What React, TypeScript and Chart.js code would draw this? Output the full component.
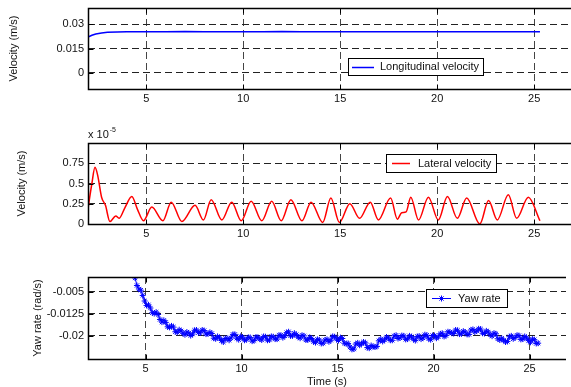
import React, { useEffect, useRef } from "react";
import { Chart, registerables } from "chart.js";

Chart.register(...registerables);

// ---------- data ----------
const X_TICKS = [5, 10, 15, 20, 25];

// Longitudinal velocity (m/s)
const LONG_T = [2.0, 2.2, 2.4, 2.7, 3.0, 3.5, 4.0, 5.0, 6.0, 7.0, 8.0, 9.0, 10.0, 11.0, 12.0, 13.0, 14.0, 15.0, 16.0, 17.0, 18.0, 19.0, 20.0, 21.0, 22.0, 23.0, 24.0, 25.0, 25.3];
const LONG_V = [0.022, 0.0232, 0.024, 0.0246, 0.025, 0.0252, 0.0253, 0.0254, 0.0253, 0.0255, 0.0253, 0.0254, 0.0253, 0.0254, 0.0255, 0.0253, 0.0254, 0.0254, 0.0253, 0.0254, 0.0254, 0.0253, 0.0254, 0.0253, 0.0254, 0.0254, 0.0253, 0.0254, 0.0254];
const LONG_Y_TICKS = [0, 0.015, 0.03];

// Lateral velocity (x 1e-5 m/s)
const LAT_T = [2.0, 2.2, 2.36, 2.5, 2.7, 2.9, 3.13, 3.43, 3.6, 3.9, 4.26, 4.55, 4.86, 5.29, 5.86, 6.29, 6.84, 7.52, 7.95, 8.35, 8.9, 9.41, 9.9, 10.41, 10.96, 11.47, 11.96, 12.46, 13.03, 13.5, 14.1, 14.52, 14.96, 15.5, 16.0, 16.55, 16.97, 17.6, 17.95, 18.17, 18.4, 18.64, 19.04, 19.55, 20.06, 20.53, 21.04, 21.52, 22.2, 22.65, 23.1, 23.67, 24.1, 24.7, 25.3];
const LAT_V = [0.19, 0.5, 0.7, 0.6, 0.33, 0.23, 0.03, 0.1, 0.07, 0.2, 0.34, 0.18, 0.04, 0.21, 0.04, 0.27, 0.03, 0.23, 0.05, 0.3, 0.05, 0.27, 0.04, 0.28, 0.04, 0.28, 0.04, 0.3, 0.04, 0.27, 0.02, 0.32, 0.02, 0.25, 0.07, 0.27, 0.05, 0.32, 0.06, 0.14, 0.15, 0.33, 0.05, 0.33, 0.05, 0.34, 0.07, 0.32, 0.0, 0.29, 0.05, 0.36, 0.07, 0.33, 0.04];
const LAT_Y_TICKS = [0, 0.25, 0.5, 0.75];

// Yaw rate (rad/s)
const YAW_T = [
  4.45, 4.55, 4.65, 4.75, 4.85, 4.95, 5.05, 5.15, 5.25, 5.35,
  5.45, 5.55, 5.65, 5.75, 5.85, 5.95, 6.05, 6.15, 6.25, 6.35,
  6.45, 6.55, 6.65, 6.75, 6.85, 6.95, 7.05, 7.15, 7.25, 7.35,
  7.45, 7.55, 7.65, 7.75, 7.85, 7.95, 8.05, 8.15, 8.25, 8.35,
  8.45, 8.55, 8.65, 8.75, 8.85, 8.95, 9.05, 9.15, 9.25, 9.35,
  9.45, 9.55, 9.65, 9.75, 9.85, 9.95, 10.05, 10.15, 10.25, 10.35,
  10.45, 10.55, 10.65, 10.75, 10.85, 10.95, 11.05, 11.15, 11.25, 11.35,
  11.45, 11.55, 11.65, 11.75, 11.85, 11.95, 12.05, 12.15, 12.25, 12.35,
  12.45, 12.55, 12.65, 12.75, 12.85, 12.95, 13.05, 13.15, 13.25, 13.35,
  13.45, 13.55, 13.65, 13.75, 13.85, 13.95, 14.05, 14.15, 14.25, 14.35,
  14.45, 14.55, 14.65, 14.75, 14.85, 14.95, 15.05, 15.15, 15.25, 15.35,
  15.45, 15.55, 15.65, 15.75, 15.85, 15.95, 16.05, 16.15, 16.25, 16.35,
  16.45, 16.55, 16.65, 16.75, 16.85, 16.95, 17.05, 17.15, 17.25, 17.35,
  17.45, 17.55, 17.65, 17.75, 17.85, 17.95, 18.05, 18.15, 18.25, 18.35,
  18.45, 18.55, 18.65, 18.75, 18.85, 18.95, 19.05, 19.15, 19.25, 19.35,
  19.45, 19.55, 19.65, 19.75, 19.85, 19.95, 20.05, 20.15, 20.25, 20.35,
  20.45, 20.55, 20.65, 20.75, 20.85, 20.95, 21.05, 21.15, 21.25, 21.35,
  21.45, 21.55, 21.65, 21.75, 21.85, 21.95, 22.05, 22.15, 22.25, 22.35,
  22.45, 22.55, 22.65, 22.75, 22.85, 22.95, 23.05, 23.15, 23.25, 23.35,
  23.45, 23.55, 23.65, 23.75, 23.85, 23.95, 24.05, 24.15, 24.25, 24.35,
  24.45, 24.55, 24.65, 24.75, 24.85, 24.95, 25.05, 25.15, 25.25, 25.35,
  25.45,
];
const YAW_V = [
  -0.0003, -0.0029, -0.0041, -0.0045, -0.0063, -0.0082, -0.0097, -0.0095, -0.0106, -0.0122,
  -0.0125, -0.012, -0.0128, -0.0145, -0.0154, -0.0148, -0.0155, -0.017, -0.0172, -0.0167,
  -0.0171, -0.0187, -0.0189, -0.018, -0.0184, -0.0192, -0.0197, -0.0188, -0.0192, -0.02,
  -0.0195, -0.0182, -0.0181, -0.019, -0.0191, -0.0181, -0.0183, -0.0195, -0.0194, -0.0189,
  -0.0193, -0.0209, -0.0211, -0.0203, -0.0208, -0.0217, -0.0222, -0.021, -0.021, -0.0216,
  -0.0208, -0.0196, -0.0196, -0.0209, -0.0214, -0.0203, -0.0205, -0.0216, -0.0214, -0.0206,
  -0.0207, -0.0219, -0.0217, -0.0205, -0.0206, -0.0212, -0.0215, -0.0203, -0.0204, -0.0216,
  -0.0215, -0.0203, -0.0204, -0.0212, -0.0212, -0.0199, -0.0199, -0.0207, -0.0201, -0.019,
  -0.0187, -0.0201, -0.0201, -0.0192, -0.0197, -0.0205, -0.0209, -0.0199, -0.0201, -0.0215,
  -0.0215, -0.0206, -0.021, -0.0221, -0.0224, -0.0213, -0.0215, -0.0227, -0.0226, -0.0215,
  -0.0213, -0.0221, -0.0216, -0.0203, -0.0204, -0.0212, -0.0217, -0.0207, -0.021, -0.0226,
  -0.0228, -0.0227, -0.0239, -0.0247, -0.0246, -0.0229, -0.0225, -0.0233, -0.0228, -0.0222,
  -0.0225, -0.0241, -0.0243, -0.0234, -0.0238, -0.0239, -0.0237, -0.0218, -0.0212, -0.022,
  -0.0215, -0.0205, -0.0208, -0.0216, -0.0216, -0.0201, -0.0199, -0.021, -0.0208, -0.02,
  -0.0201, -0.0213, -0.0212, -0.0201, -0.0204, -0.0212, -0.0217, -0.0203, -0.0202, -0.0212,
  -0.0208, -0.0197, -0.0199, -0.0211, -0.0214, -0.02, -0.02, -0.0209, -0.0204, -0.0194,
  -0.0192, -0.0203, -0.02, -0.0187, -0.0188, -0.0192, -0.0193, -0.0181, -0.0182, -0.0195,
  -0.0194, -0.0185, -0.0188, -0.0196, -0.0196, -0.0181, -0.0179, -0.0188, -0.0184, -0.0177,
  -0.0178, -0.0192, -0.0193, -0.0184, -0.0188, -0.0197, -0.0202, -0.0192, -0.0194, -0.0211,
  -0.0215, -0.0209, -0.0216, -0.0222, -0.022, -0.0204, -0.0201, -0.0211, -0.0207, -0.0199,
  -0.02, -0.0213, -0.0212, -0.0203, -0.0208, -0.0217, -0.0223, -0.0212, -0.0214, -0.0227,
  -0.0226,
];
const YAW_Y_TICKS = [-0.02, -0.0125, -0.005];

// ---------- styling ----------
const FONT = "'Liberation Sans', Arial, Helvetica, sans-serif";
const TEXT = "#111";

type Spec = {
  top: number;
  height: number;
  padTop: number;
  xHeight: number;
  yMin: number;
  yMax: number;
  yTicks: number[];
  t: number[];
  v: number[];
  label: string;
  color: string;
  lineWidth: number;
  smooth: boolean;
  star: boolean;
  yTitle: string;
  yTitlePad: number;
  xTitle?: string;
  exponent?: boolean;
  legend: { x: number; y: number; w: number; h: number; l1: number; l2: number; tx: number };
};

const SPECS: Spec[] = [
  {
    top: 0, height: 105, padTop: 8, xHeight: 16,
    yMin: -0.01, yMax: 0.04, yTicks: LONG_Y_TICKS,
    t: LONG_T, v: LONG_V, label: "Longitudinal velocity", color: "#0000ff", lineWidth: 1.5,
    smooth: false, star: false, yTitle: "Velocity (m/s)", yTitlePad: 7,
    legend: { x: 348, y: 58, w: 135, h: 17, l1: 352, l2: 374, tx: 380 },
  },
  {
    top: 120, height: 120, padTop: 23, xHeight: 16,
    yMin: 0, yMax: 1, yTicks: LAT_Y_TICKS,
    t: LAT_T, v: LAT_V, label: "Lateral velocity", color: "#ff0000", lineWidth: 1.5,
    smooth: true, star: false, yTitle: "Velocity (m/s)", yTitlePad: 15, exponent: true,
    legend: { x: 386, y: 34, w: 110, h: 18, l1: 392, l2: 410, tx: 418 },
  },
  {
    top: 260, height: 129, padTop: 17, xHeight: 30,
    yMin: -0.028, yMax: 0, yTicks: YAW_Y_TICKS,
    t: YAW_T, v: YAW_V, label: "Yaw rate", color: "#0000ff", lineWidth: 1,
    smooth: false, star: true, yTitle: "Yaw rate (rad/s)", yTitlePad: 31, xTitle: "Time (s)",
    legend: { x: 426, y: 29, w: 81, h: 18, l1: 432, l2: 451, tx: 458 },
  },
];

function drawStar(ctx: CanvasRenderingContext2D, x: number, y: number, r: number) {
  ctx.beginPath();
  ctx.moveTo(x - r, y); ctx.lineTo(x + r, y);
  ctx.moveTo(x, y - r); ctx.lineTo(x, y + r);
  const d = r * 0.7071;
  ctx.moveTo(x - d, y - d); ctx.lineTo(x + d, y + d);
  ctx.moveTo(x - d, y + d); ctx.lineTo(x + d, y - d);
  ctx.stroke();
}

function Panel({ spec }: { spec: Spec }) {
  const ref = useRef<HTMLCanvasElement>(null);

  useEffect(() => {
    const canvas = ref.current!;
    const framePlugin = {
      id: "frameBox",
      afterDatasetsDraw(chart: any) {
        const { ctx, chartArea } = chart;
        const { left, top, right, bottom } = chartArea;
        const xs = chart.scales.x;
        const ys = chart.scales.y;
        ctx.save();
        ctx.strokeStyle = "#000";
        ctx.lineWidth = 1.5;
        ctx.setLineDash([]);
        const L = Math.round(left) + 0.5;
        const T = Math.round(top) + 0.5;
        const B = Math.round(bottom) + 0.5;
        ctx.beginPath();
        ctx.moveTo(right, T); ctx.lineTo(L, T); ctx.lineTo(L, B); ctx.lineTo(right, B);
        ctx.stroke();
        ctx.lineWidth = 1;
        ctx.beginPath();
        X_TICKS.forEach((v) => {
          const px = Math.round(xs.getPixelForValue(v)) + 0.5;
          ctx.moveTo(px, T); ctx.lineTo(px, T + 5);
          ctx.moveTo(px, B); ctx.lineTo(px, B - 5);
        });
        spec.yTicks.forEach((v) => {
          const py = Math.round(ys.getPixelForValue(v)) + 0.5;
          ctx.moveTo(L, py); ctx.lineTo(L + 5, py);
        });
        ctx.stroke();

        if (spec.exponent) {
          ctx.fillStyle = TEXT;
          ctx.textBaseline = "alphabetic";
          ctx.textAlign = "left";
          ctx.font = `11px ${FONT}`;
          ctx.fillText("x 10", left, top - 5);
          const w = ctx.measureText("x 10").width;
          ctx.font = `7px ${FONT}`;
          ctx.fillText("-5", left + w + 1, top - 11);
        }

        // legend box
        const lg = spec.legend;
        ctx.fillStyle = "#fff";
        ctx.fillRect(lg.x, lg.y, lg.w, lg.h);
        ctx.strokeStyle = "#000";
        ctx.lineWidth = 1;
        ctx.strokeRect(lg.x + 0.5, lg.y + 0.5, lg.w, lg.h);
        const cy = Math.round(lg.y + lg.h / 2) + 0.5;
        ctx.strokeStyle = spec.color;
        ctx.lineWidth = spec.lineWidth;
        ctx.beginPath();
        ctx.moveTo(lg.l1, cy); ctx.lineTo(lg.l2, cy);
        ctx.stroke();
        if (spec.star) {
          ctx.lineWidth = 1;
          drawStar(ctx, (lg.l1 + lg.l2) / 2, cy, 3);
        }
        ctx.fillStyle = TEXT;
        ctx.font = `11px ${FONT}`;
        ctx.textBaseline = "middle";
        ctx.textAlign = "left";
        ctx.fillText(spec.label, lg.tx, lg.y + lg.h / 2 + 0.5);
        ctx.restore();
      },
    };

    const chart = new Chart(canvas, {
      type: "line",
      data: {
        datasets: [
          {
            label: spec.label,
            data: spec.t.map((t, i) => ({ x: t, y: spec.v[i] })),
            borderColor: spec.color,
            backgroundColor: spec.color,
            borderWidth: spec.lineWidth,
            pointRadius: spec.star ? 3 : 0,
            pointStyle: "star",
            pointBorderColor: spec.color,
            pointBorderWidth: 1,
            cubicInterpolationMode: spec.smooth ? "monotone" : "default",
            tension: 0,
            fill: false,
          } as any,
        ],
      },
      options: {
        animation: false,
        responsive: false,
        devicePixelRatio: 1,
        layout: { padding: { top: spec.padTop, left: 0, right: 0, bottom: 0 } },
        plugins: { legend: { display: false }, tooltip: { enabled: false } },
        scales: {
          x: {
            type: "linear",
            min: 2,
            max: 26.9,
            afterBuildTicks: (s: any) => {
              s.ticks = X_TICKS.map((v) => ({ value: v }));
            },
            afterFit: (s: any) => {
              s.height = spec.xHeight;
              s.paddingLeft = 0;
              s.paddingRight = 0;
            },
            grid: { color: "#444", lineWidth: 1, drawTicks: false },
            border: { display: false, dash: [7, 4] },
            ticks: {
              autoSkip: false,
              maxRotation: 0,
              padding: 3,
              color: TEXT,
              font: { family: FONT, size: 11 },
              callback: (v: any) => String(v),
            },
            title: spec.xTitle
              ? { display: true, text: spec.xTitle, color: TEXT, font: { family: FONT, size: 11 }, padding: { top: 0, bottom: 0 } }
              : { display: false },
          },
          y: {
            type: "linear",
            min: spec.yMin,
            max: spec.yMax,
            afterBuildTicks: (s: any) => {
              s.ticks = spec.yTicks.map((v) => ({ value: v }));
            },
            afterFit: (s: any) => {
              s.width = 88;
              s.paddingTop = 0;
              s.paddingBottom = 0;
            },
            grid: { color: "#222", lineWidth: 1, drawTicks: false },
            border: { display: false, dash: [7, 4] },
            ticks: {
              autoSkip: false,
              padding: 4,
              color: TEXT,
              font: { family: FONT, size: 11 },
              callback: (v: any) => String(v),
            },
            title: {
              display: true,
              text: spec.yTitle,
              color: TEXT,
              font: { family: FONT, size: 11 },
              padding: { top: spec.yTitlePad, bottom: 0 },
            },
          },
        },
      } as any,
      plugins: [framePlugin],
    });
    return () => chart.destroy();
  }, []);

  return (
    <canvas
      ref={ref}
      width={571}
      height={spec.height}
      style={{ position: "absolute", left: 0, top: spec.top, width: 571, height: spec.height, display: "block" }}
    />
  );
}

export default function App() {
  return (
    <div
      style={{
        position: "absolute",
        left: 0,
        top: 0,
        width: 571,
        height: 387,
        overflow: "hidden",
        background: "#fff",
      }}
    >
      {SPECS.map((s, i) => (
        <Panel key={i} spec={s} />
      ))}
    </div>
  );
}
